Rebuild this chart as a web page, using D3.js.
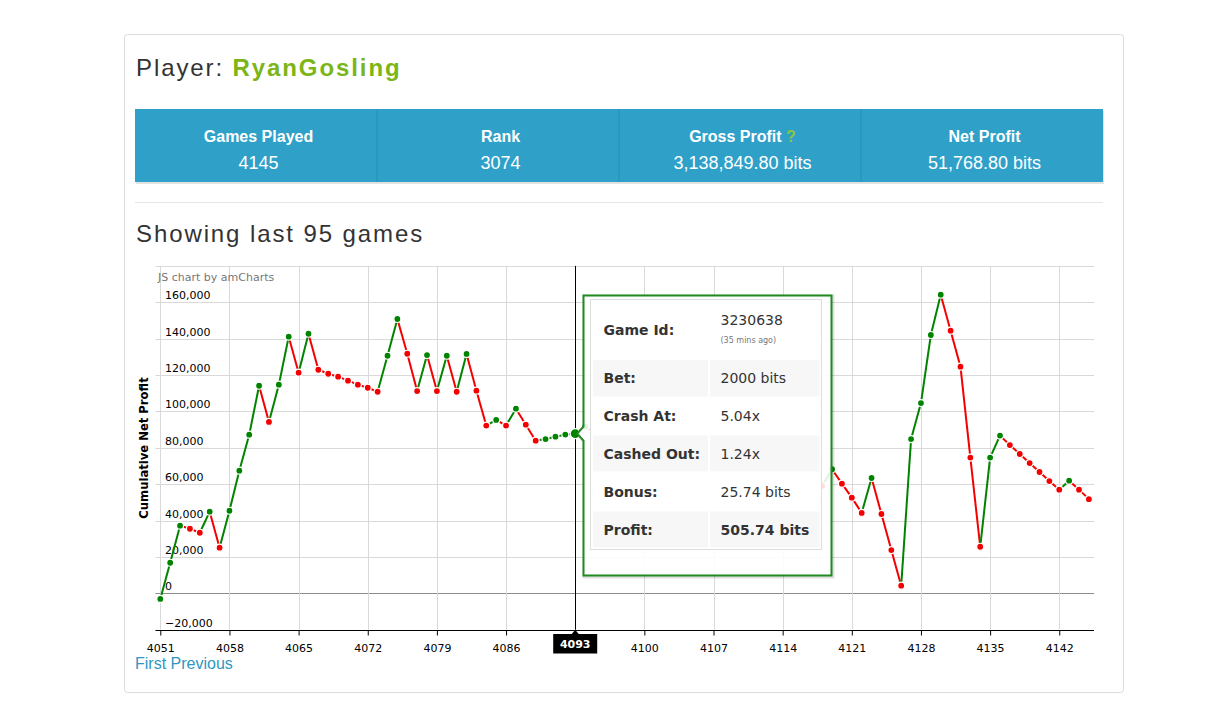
<!DOCTYPE html>
<html>
<head>
<meta charset="utf-8">
<script src="https://cdn.jsdelivr.net/npm/d3@7"></script>
<style>
  html, body { margin: 0; padding: 0; background: #fff; }
  svg { display: block; }
</style>
</head>
<body>
<script>
// ---------------- DATA ----------------
const playerName = "RyanGosling";
const statLabels = ["Games Played", "Rank", "Gross Profit", "Net Profit"];
const statValues = ["4145", "3074", "3,138,849.80 bits", "51,768.80 bits"];
const firstGame = 4051;
const cumulativeProfit = [
  -3100, 16800, 37200, 35500, 33300, 44900, 25100, 45400, 67400, 87200,
  114100, 94200, 114700, 141100, 121300, 142700, 122900, 120700, 119100, 116900,
  114700, 113000, 110800, 130600, 150800, 131700, 111200, 131000, 111200, 130600,
  110800, 131600, 111400, 92200, 95300, 92200, 101500, 92700, 83900, 84800,
  86100, 87245, 87750.74, 91600,
  88000, 84500, 95000, 90000, 86000, 99000, 94000, 89000, 84000, 79000,
  88000, 83000, 78000, 73000, 85000, 80000, 75000, 70000, 66000, 74000,
  69000, 65000, 62000,
  59150, 68200, 60300, 52600, 44200, 63400, 43600, 23800, 4200, 84800,
  104600, 142000, 164200, 144400, 124600, 74600, 25600, 74600, 86700, 81500,
  76600, 71600, 66700, 61700, 57000, 61900, 57000, 51768.8
];
const games = cumulativeProfit.map((_, i) => firstGame + i);
const xTickValues = [4051, 4058, 4065, 4072, 4079, 4086, 4093, 4100, 4107, 4114, 4121, 4128, 4135, 4142];
const yTickValues = [-20000, 0, 20000, 40000, 60000, 80000, 100000, 120000, 140000, 160000, 180000];
const hoveredGame = 4093;
const tooltipRows = [
  ["Game Id:", "3230638"],
  ["Bet:", "2000 bits"],
  ["Crash At:", "5.04x"],
  ["Cashed Out:", "1.24x"],
  ["Bonus:", "25.74 bits"],
  ["Profit:", "505.74 bits"]
];
const tooltipSub = "(35 mins ago)";

// ---------------- DRAW ----------------
const W = 1221, H = 725;
const svg = d3.select("body").append("svg").attr("width", W).attr("height", H);
const HFONT = "'Liberation Sans', Arial, Helvetica, sans-serif";
const CFONT = "'DejaVu Sans', Verdana, sans-serif";
const GREEN = "#008400", RED = "#f50000";

// panel
svg.append("rect").attr("x", 124.5).attr("y", 34.5).attr("width", 999).attr("height", 658)
  .attr("rx", 3).attr("fill", "#fff").attr("stroke", "#dcdcdc");

// title
const title = svg.append("text").attr("x", 136).attr("y", 76)
  .attr("font-family", HFONT).attr("font-size", 24).attr("letter-spacing", 1.9).attr("fill", "#333");
title.append("tspan").text("Player: ");
title.append("tspan").attr("font-weight", "bold").attr("fill", "#7cb518").text(playerName);

// stats bar
svg.append("rect").attr("x", 136).attr("y", 111).attr("width", 968).attr("height", 73).attr("fill", "#cfcfcf").attr("opacity", 0.6);
svg.append("rect").attr("x", 135).attr("y", 109).attr("width", 968).attr("height", 73).attr("fill", "#2fa1c9");
const cellW = 968 / 4;
statLabels.forEach((lab, i) => {
  const cx = 135 + cellW * i + cellW / 2 + 2.5;
  if (i > 0) {
    svg.append("line").attr("x1", 135 + cellW * i).attr("x2", 135 + cellW * i)
      .attr("y1", 109).attr("y2", 182).attr("stroke", "#2690b5").attr("stroke-width", 1);
  }
  const t = svg.append("text").attr("x", cx).attr("y", 142).attr("text-anchor", "middle")
    .attr("font-family", HFONT).attr("font-size", 16).attr("font-weight", "bold").attr("fill", "#fff");
  t.append("tspan").text(lab);
  if (lab === "Gross Profit") t.append("tspan").attr("fill", "#8cc63f").text(" ?");
  svg.append("text").attr("x", cx).attr("y", 169).attr("text-anchor", "middle")
    .attr("font-family", HFONT).attr("font-size", 18).attr("fill", "#fff").text(statValues[i]);
});

// separator
svg.append("line").attr("x1", 135).attr("x2", 1103).attr("y1", 202.5).attr("y2", 202.5).attr("stroke", "#e5e5e5");

// subtitle
svg.append("text").attr("x", 136).attr("y", 242)
  .attr("font-family", HFONT).attr("font-size", 24).attr("letter-spacing", 1.9).attr("fill", "#333")
  .text("Showing last " + cumulativeProfit.length + " games");

// chart scales
const x = d3.scaleLinear().domain([firstGame, games[games.length - 1]]).range([160.3, 1088.9]);
const y = d3.scaleLinear().domain([-20000, 180000]).range([629.7, 265.9]);
const plotL = 155.5, plotR = 1094;

const g = svg.append("g");
// horizontal grid
g.selectAll(".hg").data(yTickValues).enter().append("line")
  .attr("x1", plotL).attr("x2", plotR)
  .attr("y1", d => Math.round(y(d)) + 0.5).attr("y2", d => Math.round(y(d)) + 0.5)
  .attr("stroke", d => d === 0 ? "#8c8c8c" : "#d9d9d9").attr("stroke-width", 1);
// vertical grid
g.selectAll(".vg").data(xTickValues).enter().append("line")
  .attr("x1", d => Math.round(x(d)) + 0.5).attr("x2", d => Math.round(x(d)) + 0.5)
  .attr("y1", y(180000)).attr("y2", y(-20000))
  .attr("stroke", "#d9d9d9").attr("stroke-width", 1);

// axis (bottom)
const xAxis = d3.axisBottom(x).tickValues(xTickValues).tickSize(5).tickSizeOuter(0).tickFormat(d3.format("d"));
const axG = svg.append("g").attr("transform", `translate(0,${Math.round(y(-20000)) + 0.5})`).call(xAxis);
axG.select(".domain").attr("d", `M${plotL},0H${plotR}`).attr("stroke", "#000");
axG.selectAll(".tick line").attr("stroke", "#000");
axG.selectAll(".tick text").attr("font-family", CFONT).attr("font-size", 11).attr("fill", "#000").attr("y", 14)
  .attr("dy", "0.71em").style("display", d => d === hoveredGame ? "none" : null);

// y labels (inside)
svg.selectAll(".yl").data(yTickValues.filter(v => v < 180000)).enter().append("text")
  .attr("x", 165).attr("y", d => y(d) - 3)
  .attr("font-family", CFONT).attr("font-size", 11).attr("fill", "#000")
  .text(d => d3.format(",")(d));

// credit
svg.append("text").attr("x", 158).attr("y", 281).attr("font-family", CFONT).attr("font-size", 11)
  .attr("fill", "#777").text("JS chart by amCharts");

// axis title
svg.append("text").attr("transform", "translate(147.5,448) rotate(-90)").attr("text-anchor", "middle")
  .attr("font-family", CFONT).attr("font-size", 11.6).attr("font-weight", "bold").attr("fill", "#000")
  .text("Cumulative Net Profit");

// data
const pts = cumulativeProfit.map((v, i) => ({
  game: games[i], v,
  color: (i === 0 || v >= cumulativeProfit[i - 1]) ? GREEN : RED
}));
const segs = pts.slice(1).map((p, i) => ({ a: pts[i], b: p }));
svg.append("g").selectAll("line").data(segs).enter().append("line")
  .attr("x1", d => x(d.a.game)).attr("y1", d => y(d.a.v))
  .attr("x2", d => x(d.b.game)).attr("y2", d => y(d.b.v))
  .attr("stroke", d => d.b.color).attr("stroke-width", 2);

// cursor line
svg.append("line").attr("x1", Math.round(x(hoveredGame)) + 0.5).attr("x2", Math.round(x(hoveredGame)) + 0.5)
  .attr("y1", y(180000)).attr("y2", y(-20000)).attr("stroke", "#000").attr("stroke-width", 1);

svg.append("g").selectAll("circle").data(pts).enter().append("circle")
  .attr("cx", d => x(d.game)).attr("cy", d => y(d.v))
  .attr("r", d => d.game === hoveredGame ? 5 : 3.5)
  .attr("fill", d => d.color).attr("stroke", "#fff").attr("stroke-width", 1.2);

// cursor x label
const hx = x(hoveredGame);
svg.append("path").attr("d", `M${hx - 4},634.5L${hx},630L${hx + 4},634.5Z`).attr("fill", "#000");
svg.append("rect").attr("x", hx - 22).attr("y", 634).attr("width", 44).attr("height", 19.5).attr("fill", "#000");
svg.append("text").attr("x", hx).attr("y", 648).attr("text-anchor", "middle")
  .attr("font-family", CFONT).attr("font-size", 11).attr("font-weight", "bold").attr("fill", "#fff")
  .text(hoveredGame);

// tooltip balloon
const hp = pts.find(p => p.game === hoveredGame);
const hy = y(hp.v);
const bx0 = 583.5, bx1 = 831.5, by0 = 295.5, by1 = 575.5;
const balloon = `M${bx0},${by0}H${bx1}V${by1}H${bx0}V${hy + 7}L${hx + 2},${hy}L${bx0},${hy - 7}Z`;
svg.append("path").attr("d", balloon).attr("fill", "none").attr("stroke", "#000").attr("stroke-opacity", 0.12)
  .attr("stroke-width", 4).attr("transform", "translate(1,1)");
svg.append("path").attr("d", balloon).attr("fill", "#fff").attr("fill-opacity", 0.88)
  .attr("stroke", "#1f8a1f").attr("stroke-width", 2);

// inner table
const tx0 = 590.5, tx1 = 821.5, ty0 = 299.5, ty1 = 549.5;
svg.append("rect").attr("x", tx0).attr("y", ty0).attr("width", tx1 - tx0).attr("height", ty1 - ty0)
  .attr("fill", "#fff").attr("stroke", "#dedede");
const rowTops = [300, 360, 397.5, 435.5, 473, 511.5];
const rowBots = [360, 396.5, 434.5, 471.5, 510, 547.5];
const labelX = 603.5, valX = 720.5;
tooltipRows.forEach((r, i) => {
  if (i % 2 === 1) {
    svg.append("rect").attr("x", 593).attr("y", rowTops[i]).attr("width", 115).attr("height", rowBots[i] - rowTops[i]).attr("fill", "#f7f7f7");
    svg.append("rect").attr("x", 710).attr("y", rowTops[i]).attr("width", 109.5).attr("height", rowBots[i] - rowTops[i]).attr("fill", "#f7f7f7");
  }
  const cy = i === 0 ? 330 : (rowTops[i] + rowBots[i]) / 2;
  svg.append("text").attr("x", labelX).attr("y", cy + 5)
    .attr("font-family", CFONT).attr("font-size", 14).attr("font-weight", "bold").attr("fill", "#333").text(r[0]);
  svg.append("text").attr("x", valX).attr("y", i === 0 ? 325 : cy + 5)
    .attr("font-family", CFONT).attr("font-size", 14).attr("font-weight", i === 5 ? "bold" : "normal")
    .attr("fill", "#333").text(r[1]);
});
svg.append("text").attr("x", valX).attr("y", 343).attr("font-family", CFONT).attr("font-size", 8)
  .attr("fill", "#777").text(tooltipSub);

// pagination
svg.append("text").attr("x", 135).attr("y", 669).attr("font-family", HFONT).attr("font-size", 16)
  .attr("fill", "#2f97c1").text("First Previous");
</script>
</body>
</html>
